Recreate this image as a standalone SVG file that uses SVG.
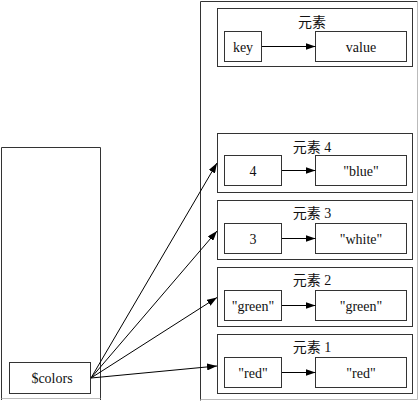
<svg xmlns="http://www.w3.org/2000/svg" width="420" height="401" viewBox="0 0 420 401">
<defs>
<marker id="arr" markerUnits="userSpaceOnUse" markerWidth="10" markerHeight="7" refX="10" refY="3.5" orient="auto">
<path d="M0,0 L10,3.5 L0,7 z" fill="#000"/>
</marker>
<style>
.box{fill:#fff;stroke:#333;stroke-width:1}
.t{font-family:"Liberation Serif","Times New Roman",serif;font-size:14px;fill:#111;text-anchor:middle}
.h{font-family:"Liberation Serif","Noto Sans CJK SC",serif;font-size:14px;fill:#111;text-anchor:middle}
.c{stroke:#000;stroke-width:1;fill:none;marker-end:url(#arr)}
</style>
</defs>
<rect x="0" y="0" width="420" height="401" fill="#fff"/>
<g id="hash">
<path d="M200.5,400.5 L200.5,1.5 L417.5,1.5" fill="none" stroke="#333"/>
<path d="M417.5,1.5 L417.5,399.5 L200.5,399.5" fill="none" stroke="#bbb"/>
</g>
<g id="symtab">
<path d="M1.5,400 L1.5,147.5 L100.5,147.5 L100.5,400" fill="none" stroke="#333"/>
<path d="M1.5,398.5 L100.5,398.5" fill="none" stroke="#bbb"/>
</g>
<g id="colors">
<rect class="box" x="9.5" y="362.5" width="81" height="31"/>
<text class="t" x="52" y="383">$colors</text>
</g>
<g id="elem">
<rect class="box" x="217.5" y="8.5" width="195" height="58"/>
<text class="h" x="312" y="26.5">元素</text>
<rect class="box" x="224.5" y="31.5" width="37" height="30"/>
<text class="t" x="243" y="51.5">key</text>
<rect class="box" x="315.5" y="31.5" width="91" height="30"/>
<text class="t" x="361" y="51.5">value</text>
</g>
<g id="elem4">
<rect class="box" x="217.5" y="133.5" width="195" height="59"/>
<text class="h" x="312" y="151.5">元素 4</text>
<rect class="box" x="224.5" y="155.5" width="57" height="30"/>
<text class="t" x="253" y="175.5">4</text>
<rect class="box" x="315.5" y="155.5" width="91" height="30"/>
<text class="t" x="361" y="175.5">"blue"</text>
</g>
<g id="elem3">
<rect class="box" x="217.5" y="200.5" width="195" height="59"/>
<text class="h" x="312" y="218">元素 3</text>
<rect class="box" x="224.5" y="223.5" width="57" height="30"/>
<text class="t" x="253" y="243.5">3</text>
<rect class="box" x="315.5" y="223.5" width="91" height="30"/>
<text class="t" x="361" y="243.5">"white"</text>
</g>
<g id="elem2">
<rect class="box" x="217.5" y="267.5" width="195" height="59"/>
<text class="h" x="312" y="285">元素 2</text>
<rect class="box" x="224.5" y="290.5" width="57" height="30"/>
<text class="t" x="253" y="310.5">"green"</text>
<rect class="box" x="315.5" y="290.5" width="91" height="30"/>
<text class="t" x="361" y="310.5">"green"</text>
</g>
<g id="elem1">
<rect class="box" x="217.5" y="334.5" width="195" height="59"/>
<text class="h" x="312" y="352">元素 1</text>
<rect class="box" x="224.5" y="357.5" width="57" height="30"/>
<text class="t" x="253" y="377.5">"red"</text>
<rect class="box" x="315.5" y="357.5" width="91" height="30"/>
<text class="t" x="361" y="377.5">"red"</text>
</g>
<g id="connectors">
<line class="c" x1="262" y1="46.5" x2="315.5" y2="46.5"/>
<line class="c" x1="282" y1="170.5" x2="315.5" y2="170.5"/>
<line class="c" x1="282" y1="238.5" x2="315.5" y2="238.5"/>
<line class="c" x1="282" y1="305.5" x2="315.5" y2="305.5"/>
<line class="c" x1="282" y1="372.5" x2="315.5" y2="372.5"/>
<line class="c" x1="91" y1="378" x2="217" y2="163"/>
<line class="c" x1="91" y1="378" x2="217" y2="231"/>
<line class="c" x1="91" y1="378" x2="217" y2="297.5"/>
<line class="c" x1="91" y1="378" x2="217" y2="366"/>
</g>
</svg>
